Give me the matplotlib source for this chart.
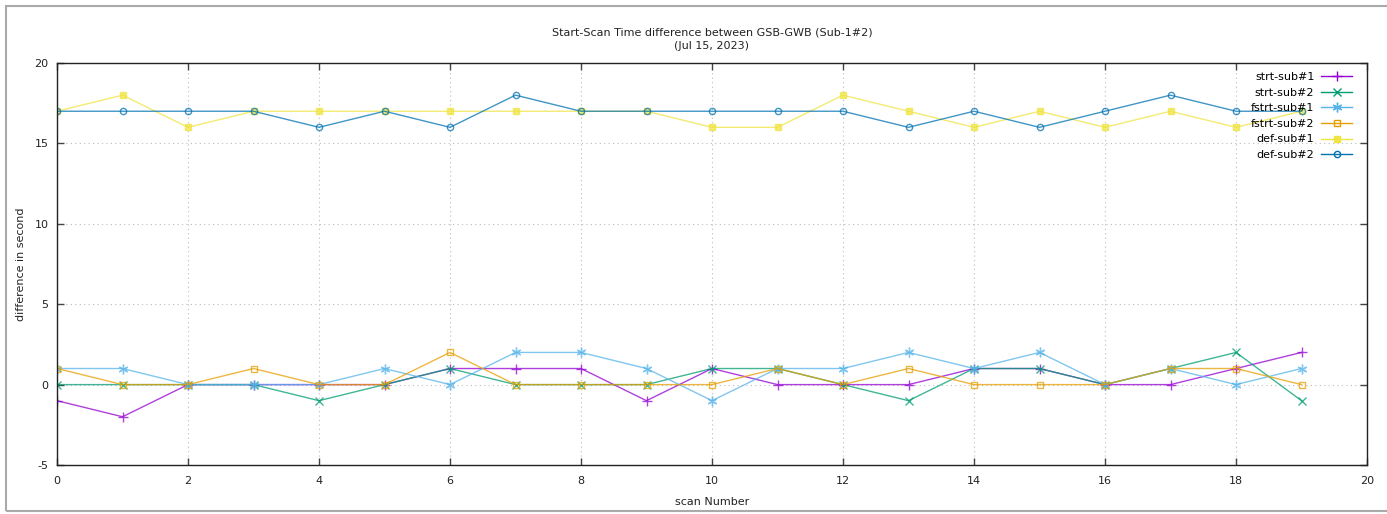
import matplotlib
matplotlib.use("Agg")
import matplotlib.pyplot as plt
from matplotlib.patches import Rectangle

scans = list(range(20))
strt_sub1 = [-1, -2, 0, 0, 0, 0, 1, 1, 1, -1, 1, 0, 0, 0, 1, 1, 0, 0, 1, 2]
strt_sub2 = [0, 0, 0, 0, -1, 0, 1, 0, 0, 0, 1, 1, 0, -1, 1, 1, 0, 1, 2, -1]
fstrt_sub1 = [1, 1, 0, 0, 0, 1, 0, 2, 2, 1, -1, 1, 1, 2, 1, 2, 0, 1, 0, 1]
fstrt_sub2 = [1, 0, 0, 1, 0, 0, 2, 0, 0, 0, 0, 1, 0, 1, 0, 0, 0, 1, 1, 0]
def_sub1 = [17, 18, 16, 17, 17, 17, 17, 17, 17, 17, 16, 16, 18, 17, 16, 17, 16, 17, 16, 17]
def_sub2 = [17, 17, 17, 17, 16, 17, 16, 18, 17, 17, 17, 17, 17, 16, 17, 16, 17, 18, 17, 17]

labels = ["strt-sub#1", "strt-sub#2", "fstrt-sub#1", "fstrt-sub#2", "def-sub#1", "def-sub#2"]
series = [strt_sub1, strt_sub2, fstrt_sub1, fstrt_sub2, def_sub1, def_sub2]
colors = ["#9400d3", "#009e73", "#56b4e9", "#e69f00", "#f0e442", "#0072b2"]
markers = ["+", "x", (6, 2, 0), "s", "s", "o"]
msizes = [7, 5.5, 7, 5, 5, 4.5]
mfcs = ["none", "none", "none", "none", "#f0e442", "none"]

plt.rcParams['font.family'] = ['DejaVu Sans']
plt.rcParams['font.size'] = 8
plt.rcParams['axes.unicode_minus'] = False

fig = plt.figure(figsize=(13.87, 5.14), dpi=100)
W, H = 1387, 514
ax = fig.add_axes([57 / W, 1 - 465 / H, (1367 - 57) / W, (465 - 63) / H])

for y, lab, c, m, ms, mfc in zip(series, labels, colors, markers, msizes, mfcs):
    ax.plot(scans, y, color=c, lw=1.0, alpha=0.75, marker=m, markersize=ms,
            markerfacecolor=mfc, markeredgecolor=c, markeredgewidth=1.0, label=lab)

ax.set_xlim(0, 20)
ax.set_ylim(-5, 20)
ax.set_xticks(range(0, 21, 2))
ax.set_yticks(range(-5, 21, 5))
ax.tick_params(direction="in", top=True, right=True, length=5, width=1, colors="#444444",
               labelcolor="#222222", labelsize=8)
ax.tick_params(axis="x", pad=8)
ax.tick_params(axis="y", pad=6)
ax.grid(True, linestyle=(0, (1, 3)), color="#bbbbbb", lw=0.8)
for s in ax.spines.values():
    s.set_color("#222222")
    s.set_linewidth(1)

ax.set_title("Start-Scan Time difference between GSB-GWB (Sub-1#2)\n(Jul 15, 2023)",
             fontsize=8, pad=10, color="#222222", linespacing=1.5)
ax.set_xlabel("scan Number", fontsize=8, labelpad=8, color="#222222")
ax.set_ylabel("difference in second", fontsize=8, labelpad=6, color="#222222")

leg = ax.legend(loc="upper right", frameon=False, markerfirst=False, fontsize=8,
                handlelength=2.8, labelspacing=0.5, borderaxespad=0.0, handletextpad=0.6,
                bbox_to_anchor=(0.992, 0.988))
for h in leg.legend_handles:
    h.set_alpha(1)

fig.patches.append(Rectangle((6 / W, 3 / H), 1.2, 1 - 9 / H, transform=fig.transFigure,
                             fill=False, edgecolor="#aaaaaa", lw=1.5))

fig.savefig("out.png", dpi=100)
